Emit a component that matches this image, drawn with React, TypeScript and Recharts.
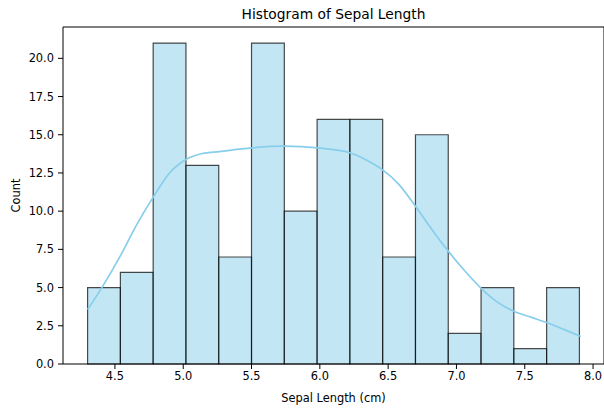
import React from "react";
import {
  ComposedChart,
  Line,
  XAxis,
  YAxis,
  ReferenceArea,
  ReferenceLine,
  Label,
} from "recharts";

const binStart = 4.3;
const binWidth = 0.24;
const binCounts = [5, 6, 21, 13, 7, 21, 10, 16, 16, 7, 15, 2, 5, 1, 5];

const kdeX = [
  4.3, 4.41, 4.545, 4.667, 4.777, 4.9, 5.02, 5.14, 5.265, 5.5, 5.74, 5.985,
  6.22, 6.34, 6.46, 6.58, 6.7, 6.82, 6.95, 7.07, 7.19, 7.3, 7.42, 7.55, 7.67,
  7.79, 7.91,
];
const kdeY = [
  3.56, 5.08, 7.16, 9.23, 10.87, 12.5, 13.38, 13.77, 13.9, 14.14, 14.25, 14.14,
  13.82, 13.35, 12.7, 11.74, 10.32, 8.8, 7.27, 6.0, 4.87, 4.05, 3.45, 3.05,
  2.68, 2.25, 1.8,
];

const xTicks = [4.5, 5.0, 5.5, 6.0, 6.5, 7.0, 7.5, 8.0];
const yTicks = [0, 2.5, 5, 7.5, 10, 12.5, 15, 17.5, 20];
const xDomain = [4.12, 8.08];
const yDomain = [0, 22.05];

const bins = binCounts.map((c, i) => ({
  x1: binStart + i * binWidth,
  x2: binStart + (i + 1) * binWidth,
  count: c,
}));
const kdeData = kdeX.map((x, i) => ({ x, y: kdeY[i] }));

const FONT = "DejaVu Sans, sans-serif";
const TICK_FS = 11.4;

export default function App() {
  return (
    <div
      style={{
        position: "absolute",
        left: 0,
        top: 0,
        width: 604,
        height: 410,
        background: "#fff",
        fontFamily: FONT,
      }}
    >
      <div
        style={{
          position: "absolute",
          top: 6,
          left: 63,
          width: 541,
          textAlign: "center",
          fontSize: 13.8,
          lineHeight: "17px",
          fontFamily: FONT,
          color: "#000",
        }}
      >
        Histogram of Sepal Length
      </div>
      <ComposedChart
        width={604}
        height={410}
        data={kdeData}
        margin={{ top: 27, right: 0, bottom: 0, left: 0 }}
      >
        <XAxis
          dataKey="x"
          type="number"
          domain={xDomain}
          ticks={xTicks}
          allowDataOverflow
          tickFormatter={(v: number) => v.toFixed(1)}
          height={46}
          stroke="#000"
          tickSize={5}
          tickMargin={3}
          tick={{ fontSize: TICK_FS, fill: "#000", fontFamily: FONT }}
        >
          <Label
            value="Sepal Length (cm)"
            position="insideBottom"
            offset={8}
            style={{ fontSize: TICK_FS, fill: "#000", fontFamily: FONT }}
          />
        </XAxis>
        <YAxis
          type="number"
          domain={yDomain}
          ticks={yTicks}
          allowDataOverflow
          tickFormatter={(v: number) => v.toFixed(1)}
          width={63}
          stroke="#000"
          tickSize={5}
          tickMargin={4}
          tick={{ fontSize: TICK_FS, fill: "#000", fontFamily: FONT }}
        >
          <Label
            value="Count"
            angle={-90}
            position="insideLeft"
            offset={16}
            style={{
              fontSize: TICK_FS,
              fill: "#000",
              fontFamily: FONT,
              textAnchor: "middle",
            }}
          />
        </YAxis>
        {bins.map((b, i) => (
          <ReferenceArea
            key={i}
            x1={b.x1}
            x2={b.x2}
            y1={0}
            y2={b.count}
            fill="#87CEEB"
            fillOpacity={0.5}
            stroke="#000"
            strokeOpacity={0.7}
            strokeWidth={1.2}
            ifOverflow="visible"
          />
        ))}
        <ReferenceLine y={yDomain[1]} stroke="#000" strokeWidth={1} ifOverflow="visible" />
        <ReferenceLine x={xDomain[1]} stroke="#000" strokeWidth={1} ifOverflow="visible" />
        <Line
          dataKey="y"
          type="monotone"
          stroke="#87CEEB"
          strokeWidth={1.7}
          dot={false}
          activeDot={false}
          isAnimationActive={false}
        />
      </ComposedChart>
    </div>
  );
}
